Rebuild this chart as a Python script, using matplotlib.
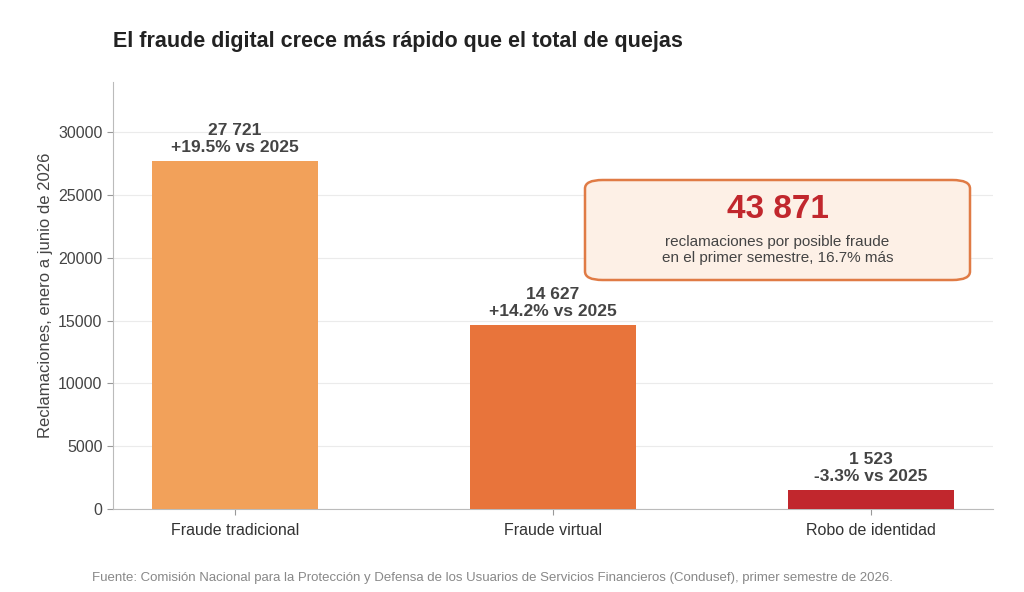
import matplotlib.pyplot as plt
from matplotlib.patches import FancyBboxPatch

plt.rcParams['font.family'] = ['Liberation Sans', 'DejaVu Sans']

categories = ['Fraude tradicional', 'Fraude virtual', 'Robo de identidad']
values = [27721, 14627, 1523]
changes = ['+19.5%', '+14.2%', '-3.3%']
colors = ['#F2A15A', '#E8743B', '#C1272D']
total = 43871

fig = plt.figure(figsize=(10.24, 5.92), dpi=100)
ax = fig.add_axes([113 / 1024, 1 - 509 / 592, 880 / 1024, 427 / 592])

x = range(len(categories))
ax.bar(x, values, width=0.52, color=colors, zorder=3)
for i, v in enumerate(values):
    label = f"{v:,}".replace(',', ' ') + f"\n{changes[i]} vs 2025"
    ax.text(i, v + 500, label, ha='center', va='bottom', fontsize=12.5,
            fontweight='bold', color='#444444', linespacing=1.15)

ax.set_xlim(-0.384, 2.384)
ax.set_ylim(0, 34000)
ax.set_xticks(list(x))
ax.set_xticklabels(categories, fontsize=11.5, color='#333333')
ax.set_yticks(range(0, 30001, 5000))
ax.tick_params(axis='y', labelsize=11.5, colors='#444444', length=4, color='#999999')
ax.tick_params(axis='x', length=4, color='#999999', pad=6)
ax.set_ylabel('Reclamaciones, enero a junio de 2026', fontsize=12, color='#444444')
ax.grid(axis='y', color='#EBEBEB', linewidth=0.8, zorder=0)
for s in ['top', 'right']:
    ax.spines[s].set_visible(False)
for s in ['left', 'bottom']:
    ax.spines[s].set_color('#BBBBBB')

# callout box
bx0, bx1 = (585 - 113) / 880, (970 - 113) / 880
by0, by1 = (509 - 280) / 427, (509 - 180) / 427
box = FancyBboxPatch((bx0, by0), bx1 - bx0, by1 - by0, transform=ax.transAxes,
                     boxstyle='round,pad=0,rounding_size=0.02', facecolor='#FDF0E6',
                     edgecolor='#E07B45', linewidth=1.8, zorder=5)
ax.add_patch(box)
cx = (bx0 + bx1) / 2
ax.text(cx, (509 - 210) / 427, f"{total:,}".replace(',', ' '), transform=ax.transAxes,
        ha='center', va='center', fontsize=24, fontweight='bold', color='#C1272D', zorder=6)
ax.text(cx, (509 - 250) / 427,
        'reclamaciones por posible fraude\nen el primer semestre, 16.7% más',
        transform=ax.transAxes, ha='center', va='center', fontsize=11,
        color='#444444', zorder=6, linespacing=1.1)

fig.text(113 / 1024, 1 - 41 / 592, 'El fraude digital crece más rápido que el total de quejas',
         fontsize=15.5, fontweight='bold', color='#222222', va='center')
fig.text(92 / 1024, 1 - 578 / 592,
         'Fuente: Comisión Nacional para la Protección y Defensa de los Usuarios de Servicios '
         'Financieros (Condusef), primer semestre de 2026.',
         fontsize=9.5, color='#888888', va='center')

fig.savefig('out.png', dpi=100)
